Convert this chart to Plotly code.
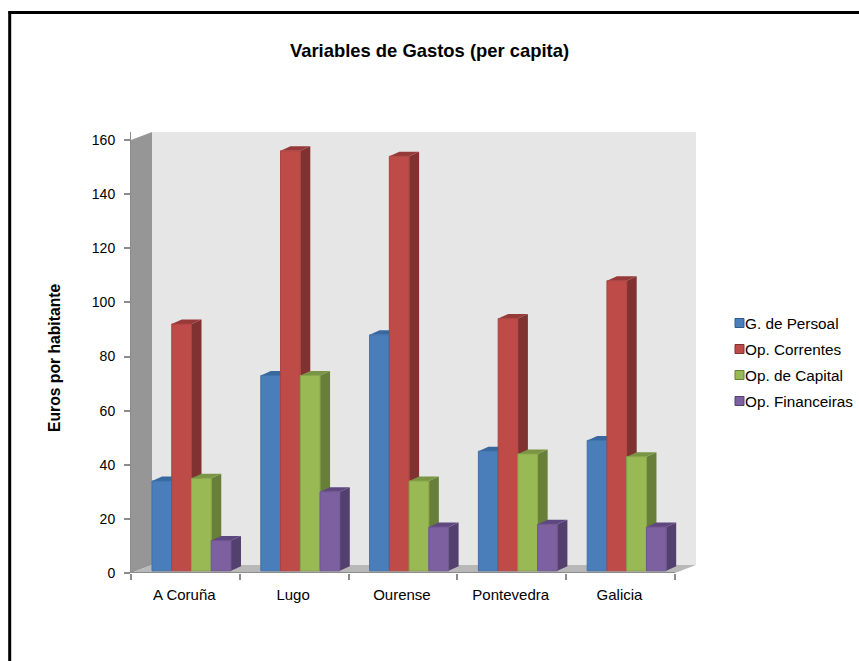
import plotly.graph_objects as go

categories = ["A Coruña", "Lugo", "Ourense", "Pontevedra", "Galicia"]
gastos_persoal = [34, 73, 88, 45, 49]
op_correntes = [92, 156, 154, 94, 108]
op_capital = [35, 73, 34, 44, 43]
op_financeiras = [12, 30, 17, 18, 17]
series_names = ["G. de Persoal", "Op. Correntes", "Op. de Capital", "Op. Financeiras"]
series_values = [gastos_persoal, op_correntes, op_capital, op_financeiras]
y_ticks = [0, 20, 40, 60, 80, 100, 120, 140, 160]

front = ["#4a7ebb", "#be4b48", "#98b954", "#7d60a0"]
edge = ["#3f6fa8", "#a94341", "#88a64a", "#6f5590"]
side = ["#2f5a8f", "#7f3230", "#677f39", "#54406e"]
top = ["#38689f", "#953a38", "#7a9644", "#5f4880"]

FONT = "Liberation Sans"
W, H = 859, 661
L, R, T, B = 131, 696, 132, 573
unit_px = 108.8
val_px = 433 / 160
xmax = (R - L) / unit_px
ymax = (B - T) / val_px

wall_dx, wall_dy = 21 / unit_px, 8 / val_px
bar_w = 19.75 / unit_px
bar_dx, bar_dy = 10 / unit_px, 4.5 / val_px
base = 0.8


def px(x):
    return (x - L) / (R - L)


def py(y):
    return (B - y) / (B - T)


fig = go.Figure()

# Side and top faces of the bars, drawn beneath the front faces
for s, vals in enumerate(series_values):
    sx, sy, tx, ty = [], [], [], []
    for i, v in enumerate(vals):
        x0 = i + wall_dx + bar_w * s
        x1 = x0 + bar_w
        sx += [x1, x1 + bar_dx, x1 + bar_dx, x1, x1, None]
        sy += [base, base + bar_dy, v + bar_dy, v, base, None]
        tx += [x0, x0 + bar_dx, x1 + bar_dx, x1, x0, None]
        ty += [v, v + bar_dy, v + bar_dy, v, v, None]
    for xs, ys, col in ((sx, sy, side[s]), (tx, ty, top[s])):
        fig.add_trace(go.Scatter(x=xs, y=ys, mode="lines", fill="toself", fillcolor=col,
                                 line=dict(width=0, color=col), hoverinfo="skip",
                                 showlegend=False, xaxis="x", yaxis="y"))

# Front faces of the bars
for s, vals in enumerate(series_values):
    fig.add_trace(go.Bar(
        x=[i + wall_dx + bar_w * (s + 0.5) for i in range(len(categories))],
        y=[v - base for v in vals], base=base, width=bar_w, name=series_names[s],
        customdata=categories, hovertemplate="%{customdata}<extra>" + series_names[s] + "</extra>",
        showlegend=False,
        marker=dict(color=front[s], line=dict(color=edge[s], width=1)),
        xaxis="x2", yaxis="y2"))

n = len(categories)
shapes = [
    dict(type="rect", xref="x", yref="y", x0=wall_dx, x1=xmax, y0=wall_dy, y1=ymax,
         fillcolor="#e6e6e6", line_width=0, layer="below"),
    dict(type="path", xref="x", yref="y", layer="below", fillcolor="#969696", line_width=0,
         path=f"M0,0 L{wall_dx},{wall_dy} L{wall_dx},{ymax} L0,160 Z"),
    dict(type="path", xref="x", yref="y", layer="below", fillcolor="#b8b8b8", line_width=0,
         path=f"M0,0 L{wall_dx},{wall_dy} L{xmax},{wall_dy} L{n},0 Z"),
    dict(type="line", xref="x", yref="y", x0=0, x1=n, y0=0, y1=0,
         line=dict(color="#8c8c8c", width=2), layer="below"),
    dict(type="line", xref="paper", yref="paper", x0=px(8.5), x1=px(W), y0=py(12.5), y1=py(12.5),
         line=dict(color="#000000", width=3)),
    dict(type="line", xref="paper", yref="paper", x0=px(9.7), x1=px(9.7), y0=py(11), y1=py(H),
         line=dict(color="#000000", width=3)),
]
annotations = [dict(text="<b>Euros por habitante</b>", textangle=-90, xref="paper", yref="paper",
                    x=px(54.5), y=py(358.5), showarrow=False, xanchor="center", yanchor="middle",
                    font=dict(family=FONT, size=15.7))]

# Key on the right: swatch hard against its label
for s, name in enumerate(series_names):
    cy = 323 + 26 * s
    shapes.append(dict(type="rect", xref="paper", yref="paper", x0=px(735), x1=px(744),
                       y0=py(cy - 4.5), y1=py(cy + 4.5), fillcolor=front[s],
                       line=dict(color=side[s], width=1)))
    annotations.append(dict(text=name, xref="paper", yref="paper", x=px(745), y=py(cy),
                            showarrow=False, xanchor="left", yanchor="middle",
                            font=dict(family=FONT, size=15.3), xshift=-2))

fig.update_layout(
    width=W, height=H, autosize=False, showlegend=False,
    margin=dict(l=L, r=W - R, t=T, b=H - B, pad=0),
    paper_bgcolor="white", plot_bgcolor="white",
    font=dict(family=FONT, size=14, color="#000000"),
    barmode="overlay", shapes=shapes, annotations=annotations,
    title=dict(text="<b>Variables de Gastos (per capita)</b>", x=0.5, xanchor="center",
               y=1 - 51 / H, yanchor="middle", font=dict(family=FONT, size=18.4, color="#000000")),
    xaxis=dict(range=[0, xmax], tickmode="array",
               tickvals=[i + 0.49 for i in range(n)], ticktext=categories,
               ticks="", showgrid=False, zeroline=False, showline=False,
               ticklabelstandoff=11, tickfont=dict(size=15)),
    yaxis=dict(range=[0, ymax], tickmode="array", tickvals=y_ticks, ticks="outside",
               ticklen=6, tickwidth=2, tickcolor="#8c8c8c", showgrid=False, zeroline=False,
               showline=True, linecolor="#8c8c8c", linewidth=1,
               ticklabelstandoff=6, tickfont=dict(size=14)),
    xaxis2=dict(range=[0, xmax], overlaying="x", visible=False),
    yaxis2=dict(range=[0, ymax], overlaying="y", visible=False),
)
fig.update_xaxes(minor=dict(tickmode="array", tickvals=list(range(n + 1)), ticks="outside",
                            ticklen=6, tickwidth=2, tickcolor="#8c8c8c", showgrid=False),
                 selector=dict(overlaying=None))

fig.write_html("out.html", config={"displayModeBar": False},
               post_script="document.body.style.margin='0';document.body.style.overflow='hidden';")
